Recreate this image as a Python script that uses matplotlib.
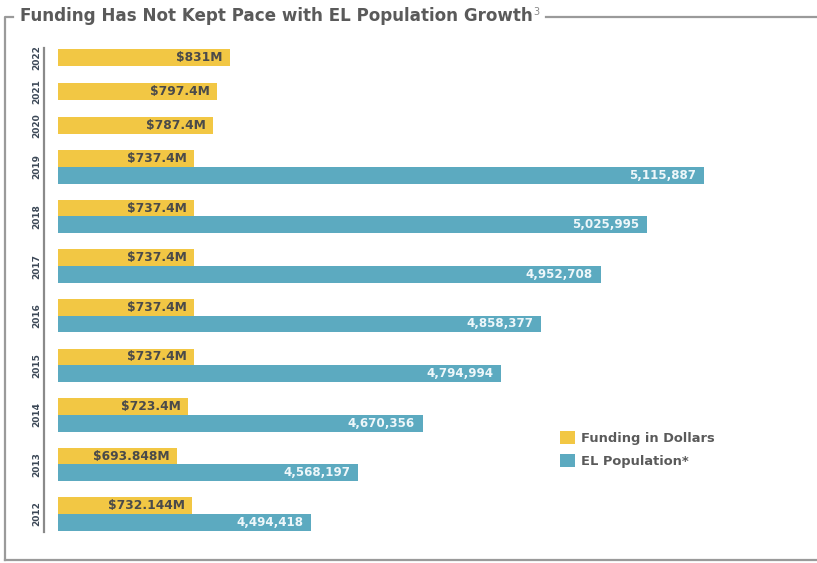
import matplotlib
matplotlib.use('Agg')
import matplotlib.pyplot as plt
from matplotlib.lines import Line2D

# Data (bottom to top)
years = ['2012', '2013', '2014', '2015', '2016', '2017', '2018', '2019', '2020', '2021', '2022']
funding_m = [732.144, 693.848, 723.4, 737.4, 737.4, 737.4, 737.4, 737.4, 787.4, 797.4, 831]
el_years = ['2012', '2013', '2014', '2015', '2016', '2017', '2018', '2019']
el_population = [4494418, 4568197, 4670356, 4794994, 4858377, 4952708, 5025995, 5115887]

YELLOW = '#F2C744'
TEAL = '#5CAAC0'
GRAY = '#5a5a5a'
FRAME = '#9a9a9a'

W, H = 817, 563
fig = plt.figure(figsize=(W / 100, H / 100), dpi=100)


def px_line(xs, ys):
    # draw a line given in pixel coords (origin top-left)
    fig.add_artist(Line2D([x / W for x in xs], [1 - y / H for y in ys],
                          transform=fig.transFigure, color=FRAME, lw=1.6))


# Layout in pixel units (y grows downwards)
bar_h = 16.7
pair_step = 49.6
single_step = 34
fund_y = []
for i, yr in enumerate(years):
    if yr in el_years:
        fund_y.append(505.7 - pair_step * i)
    else:
        fund_y.append(fund_y[-1] - (33 if yr == '2020' else single_step))
el_y = [fund_y[years.index(yr)] + bar_h for yr in el_years]
label_y = [y + (bar_h / 2 if yr in el_years else 0) for y, yr in zip(fund_y, years)]

ax = fig.add_axes([58 / W, 1 - 532 / H, (760 - 58) / W, (532 - 48) / H])
ax.set_ylim(532, 48)

# EL population on its own x scale
ax.set_xlim(4093300, 5204600)
el_bars = ax.barh(el_y, el_population, height=bar_h, color=TEAL, label='EL Population*')
for v, y in zip(el_population, el_y):
    ax.annotate(f'{v:,}', xy=(v, y), xytext=(-8, 0), textcoords='offset pixels',
                ha='right', va='center', color='#eef7fa', fontsize=8.6, fontweight='bold')

# Funding on a twin x scale
ax2 = ax.twiny()
ax2.set_xlim(383, 2216)
fund_bars = ax2.barh(fund_y, funding_m, height=bar_h, color=YELLOW, label='Funding in Dollars')
for v, y in zip(funding_m, fund_y):
    ax2.annotate(f'${v:g}M', xy=(v, y), xytext=(-7, 0), textcoords='offset pixels',
                 ha='right', va='center', color='#4a4a4a', fontsize=8.8, fontweight='bold')

for a in (ax, ax2):
    for s in a.spines.values():
        s.set_visible(False)
    a.set_xticks([])
ax.spines['left'].set_visible(True)
ax.spines['left'].set_position(('outward', 10))
ax.spines['left'].set_color('#8a8a8a')
ax.spines['left'].set_linewidth(1.6)
ax.set_yticks(label_y, labels=years, rotation=90, va='center')
ax.tick_params(axis='y', length=0, pad=2, labelsize=6.5, labelcolor='#3b4756')
for t in ax.get_yticklabels():
    t.set_fontweight('bold')

fig.legend(handles=[fund_bars, el_bars], loc='upper left',
           bbox_to_anchor=(555 / W, 1 - 426 / H), frameon=False,
           handlelength=1.15, handleheight=1.15, handletextpad=0.45,
           labelspacing=0.65, borderaxespad=0,
           prop={'weight': 'bold', 'size': 9.4}, labelcolor=GRAY)

# Title with framing lines
title = fig.text(20 / W, 1 - 16 / H, 'Funding Has Not Kept Pace with EL Population Growth',
                 fontsize=12.1, fontweight='bold', color=GRAY, va='center', ha='left')
fig.canvas.draw()
bb = title.get_window_extent()
sup = fig.text((bb.x1 + 1) / W, 1 - 12 / H, '3', fontsize=7, color='#888888',
               va='center', ha='left')
fig.canvas.draw()
sb = sup.get_window_extent()
px_line([4.5, 4.5, 13], [560, 17, 17])
px_line([sb.x1 + 6, W], [17, 17])
px_line([4.5, W], [560, 560])

fig.savefig('out.png', dpi=100)
